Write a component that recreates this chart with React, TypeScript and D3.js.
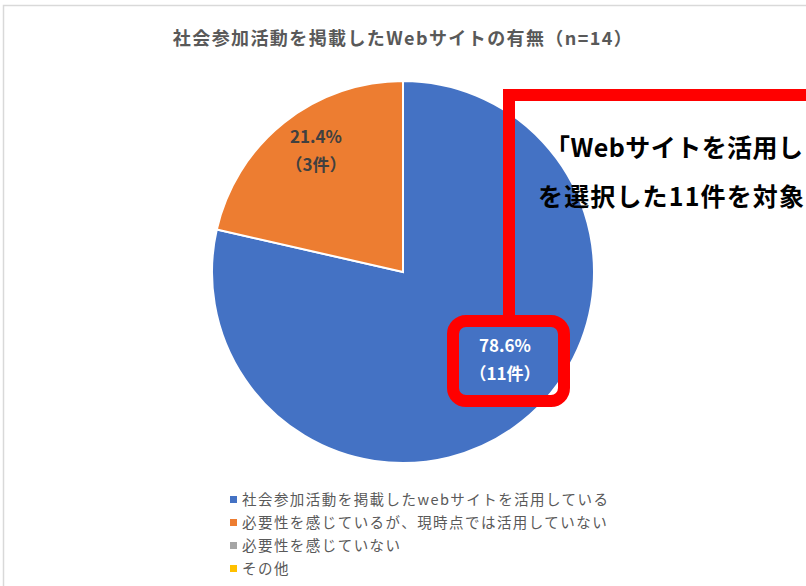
import { pie, arc } from "d3";

const categories = [
  "社会参加活動を掲載したwebサイトを活用している",
  "必要性を感じているが、現時点では活用していない",
  "必要性を感じていない",
  "その他",
];
const counts = [11, 3, 0, 0];
const percents = ["78.6%", "21.4%", "0.0%", "0.0%"];
const colors = ["#4472c4", "#ed7d31", "#a5a5a5", "#ffc000"];

const W = 806;
const H = 586;
const cx = 403;
const cy = 272;
const r = 191;

const font = "'Noto Sans CJK JP', 'Noto Sans', sans-serif";

// label spots, relative to pie centre
const labelPos = [
  [102, 80],
  [-87, -129],
];

const App = () => {
  const slices = pie<number>()
    .sort(null)
    .value((d) => d)(counts);
  const arcGen = arc<any>().innerRadius(0).outerRadius(r);

  return (
    <div style={{ position: "absolute", left: 0, top: 0 }}>
      <svg width={W} height={H} style={{ display: "block" }}>
        <rect x={0} y={0} width={W} height={H} fill="#fff" />
        {/* outer frame */}
        <rect x={3.5} y={5.5} width={W + 10} height={H + 10} fill="none" stroke="#d9d9d9" strokeWidth={1.5} />
        <text
          x={403}
          y={45}
          textAnchor="middle"
          fontFamily={font}
          fontSize={18}
          fontWeight={700}
          letterSpacing={1.4}
          fill="#595959"
        >
          社会参加活動を掲載したWebサイトの有無（n=14）
        </text>
        <g transform={`translate(${cx},${cy})`}>
          {slices.map((s, i) =>
            s.value > 0 ? (
              <path key={i} d={arcGen(s)!} fill={colors[i]} stroke="#fff" strokeWidth={2} />
            ) : null
          )}
        </g>
        {/* data labels */}
        {slices.map((s, i) => {
          if (s.value === 0) return null;
          const pos = labelPos[i];
          const fill = i === 0 ? "#fff" : "#404040";
          return (
            <g key={i} transform={`translate(${cx + pos[0]},${cy + pos[1]})`}>
              <text textAnchor="middle" fontFamily={font} fontSize={17} fontWeight={700} fill={fill}>
                {percents[i]}
              </text>
              <text y={28} textAnchor="middle" fontFamily={font} fontSize={17} fontWeight={700} fill={fill}>
                （{counts[i]}件）
              </text>
            </g>
          );
        })}
        {/* red callout */}
        <path d="M 509 95 L 820 95 M 509 89 L 509 321" fill="none" stroke="#ff0000" strokeWidth={12} />
        <rect x={453} y={321} width={111} height={80} rx={13} fill="none" stroke="#ff0000" strokeWidth={12} />
        <text
          x={545}
          y={157}
          fontFamily={font}
          fontSize={25}
          fontWeight={700}
          fill="#000"
          textLength={258}
          lengthAdjust="spacing"
        >
          「Webサイトを活用し
        </text>
        <text
          x={538}
          y={206}
          fontFamily={font}
          fontSize={25}
          fontWeight={700}
          fill="#000"
          textLength={266}
          lengthAdjust="spacing"
        >
          を選択した11件を対象
        </text>
        {/* legend */}
        {categories.map((c, i) => (
          <g key={i} transform={`translate(230,${500 + i * 23})`}>
            <rect x={0} y={-4} width={7} height={7} fill={colors[i]} />
            <text
              x={12}
              y={0}
              dy="0.36em"
              fontFamily={font}
              fontSize={14.5}
              letterSpacing={1.45}
              fill="#595959"
            >
              {c}
            </text>
          </g>
        ))}
      </svg>
    </div>
  );
};

export default App;
